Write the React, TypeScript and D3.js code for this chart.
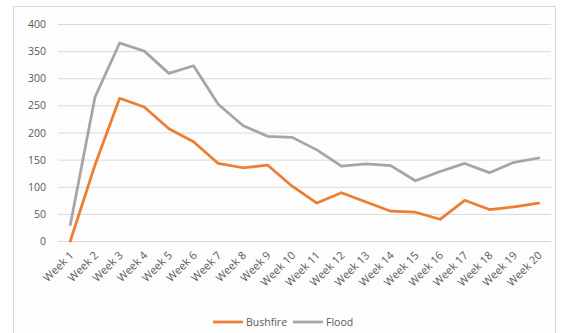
import React, { useEffect, useRef } from "react";
import * as d3 from "d3";

const weeks = Array.from({ length: 20 }, (_, i) => `Week ${i + 1}`);
const bushfire = [0, 140, 263, 247, 207, 183, 143, 135, 140, 101, 70, 89, 72, 55, 53, 40, 75, 58, 63, 70];
const flood = [30, 265, 365, 350, 309, 323, 252, 213, 193, 191, 168, 138, 142, 139, 111, 128, 143, 126, 145, 153];
const yTicks = [0, 50, 100, 150, 200, 250, 300, 350, 400];

const seriesList = [
  { name: "Bushfire", values: bushfire, color: "#ED7D31" },
  { name: "Flood", values: flood, color: "#A5A5A5" },
];

export default function App() {
  const ref = useRef<SVGSVGElement>(null);

  useEffect(() => {
    const width = 564;
    const height = 333;
    const margin = { top: 24, right: 13, bottom: 92, left: 58 };

    const svg = d3.select(ref.current);
    svg.selectAll("*").remove();

    // chart frame
    svg.append("rect")
      .attr("x", 13.5).attr("y", 6.5)
      .attr("width", 542).attr("height", 340)
      .attr("fill", "#fdfdfd").attr("stroke", "#d9d9d9");

    const x = d3.scaleBand()
      .domain(weeks)
      .range([margin.left, width - margin.right]);

    const y = d3.scaleLinear()
      .domain([0, 400])
      .range([height - margin.bottom, margin.top]);

    // gridlines
    svg.append("g")
      .selectAll("line")
      .data(yTicks)
      .enter()
      .append("line")
      .attr("x1", margin.left)
      .attr("x2", width - margin.right)
      .attr("y1", (d) => y(d) + 0.5)
      .attr("y2", (d) => y(d) + 0.5)
      .attr("stroke", "#d9d9d9")
      .attr("stroke-width", 1);

    // y labels
    svg.append("g")
      .selectAll("text")
      .data(yTicks)
      .enter()
      .append("text")
      .attr("x", 46)
      .attr("y", (d) => y(d) + 4)
      .attr("text-anchor", "end")
      .style("font-size", "10.5px")
      .style("font-family", "'Open Sans', sans-serif")
      .style("fill", "#595959")
      .text((d) => d);

    // x labels, rotated
    svg.append("g")
      .selectAll("text")
      .data(weeks)
      .enter()
      .append("text")
      .attr("transform", (d) => `translate(${x(d)! + x.bandwidth() / 2 + 4},${height - margin.bottom + 15}) rotate(-45)`)
      .attr("text-anchor", "end")
      .style("font-size", "11px")
      .style("font-family", "'Open Sans', sans-serif")
      .style("fill", "#595959")
      .text((d) => d);

    const line = d3.line<number>()
      .x((d, i) => x(weeks[i])! + x.bandwidth() / 2)
      .y((d) => y(d));

    seriesList.forEach((s) => {
      svg.append("path")
        .datum(s.values)
        .attr("d", line)
        .attr("fill", "none")
        .attr("stroke", s.color)
        .attr("stroke-width", 2.75)
        .attr("stroke-linejoin", "round")
        .attr("stroke-linecap", "round");
    });

    // legend
    const legend = svg.append("g").attr("transform", "translate(213, 322)");
    let offset = 0;
    seriesList.forEach((s) => {
      const item = legend.append("g").attr("transform", `translate(${offset},0)`);
      item.append("line")
        .attr("x1", 0).attr("x2", 30)
        .attr("y1", 0).attr("y2", 0)
        .attr("stroke", s.color)
        .attr("stroke-width", 2.75);
      item.append("text")
        .attr("x", 33)
        .attr("y", 4)
        .style("font-size", "10.5px")
        .style("font-family", "'Open Sans', sans-serif")
        .style("fill", "#595959")
        .text(s.name);
      offset += 80;
    });
  }, []);

  return (
    <svg
      ref={ref}
      width={564}
      height={333}
      style={{ position: "absolute", left: 0, top: 0, background: "#ffffff" }}
    />
  );
}
